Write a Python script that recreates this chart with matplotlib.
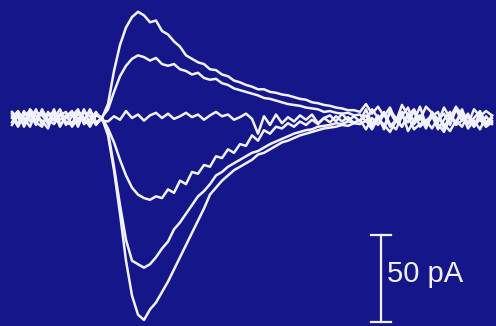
import numpy as np
import matplotlib.pyplot as plt

# time axis: 0.6 ms steps, currents in pA (baseline = 0)
t = np.arange(81) * 0.6 + 1.2

trace1 = [2.5, -3.5, 4, -2, 5, -4, 1.5, 3.5, -5, 1, 4, -2.5, 5, -3.5, 2.5, 0,
          8, 27, 42, 52, 58, 61, 59, 55, 56, 50, 48, 44, 41, 36, 34, 32, 31, 28, 27.5,
          25, 24, 21.5, 20.5, 19, 18, 16.5, 16.5, 15, 14.5, 13.5, 13, 12, 11, 10.5, 9,
          8.5, 7.5, 7, 6, 5.5, 4.5, 4.5, 3.5,
          8, 2.5, 6.5, 1, 6, -2, 7.5, 1.5, 5, -1, 6.5, 3, -2.5, 6, 0, 6.5, 1.5, -3.5, 5,
          1, 4, 1.5]
trace2 = [-2.5, 3.5, -5, 1.5, -1, 4, -3.5, 0, 5, -2.5, -4, 2.5, -1.5, 4, -3.5, 0.5,
          5, 15, 24, 30, 34, 36, 35, 33, 34.5, 31, 30, 31, 28, 27, 25, 26, 23, 22, 22.5,
          20, 19, 17, 16, 15, 14, 13, 11.5, 11, 10, 9, 8, 7.5, 7, 6, 5.5, 5, 3.5, 4, 3,
          2.5, 3, 1.5, 2,
          -2, 5, 0, -5, 3.5, -2.5, 1.5, 6, -3.5, 1, -6, 3.5, -1, 2.5, -4, 5, -1.5, 1,
          -5, 3.5, -2.5, 0]
trace3 = [1, -5, 1.5, 4, -2.5, -5, 3.5, -1.5, 2.5, -4, 1, 5, -3.5, -1, 3.5, -1.5,
          -2, 1, -1, 4, 0, 2, -1.5, 1.5, 3, 0, 2.5, -0.5, 1, 3, 0.5, 2, -1, 1.5, 3.5, 1,
          2, -1, 0.5, 2.5, -0.5, -9, 1, -4, 2, -3, 0.5, -2, 1.5, -1, 2, -3, 0, 1.5, -2,
          2.5, -1.5, 1, -2,
          5, -3.5, 1.5, -6.5, 4, 0, -5, 2.5, -1.5, 6.5, -4, 1, 3.5, -6, 1.5, -2.5, 5,
          -3.5, 0, 4, -5, 1.5]
trace4 = [3.5, 0, -3.5, 5, 1, -1.5, -6, 3.5, -1, 1.5, -3.5, 4, 0, -5, 1.5, 0,
          -6, -14, -24, -33, -40, -44, -46, -47, -45, -46, -41, -43, -36, -38, -31, -32,
          -27, -28, -22, -23, -18, -20, -15, -16, -10, -13, -7, -9, -5, -6, -3, -5, -2,
          -4, -1, -3.5, 0, -2.5, 1, -2, 0.5, -3, -1,
          -6.5, 0, -4, 2.5, -5, -1, 3.5, -7.5, -1.5, 1.5, -5, 1, -3.5, -8, 0, -2.5, 2.5,
          -6, -1.5, -6.5, 1, -3.5]
trace5 = [-4, 1.5, 0, -5, 3.5, 1.5, -2.5, 5, -3.5, 0, 2.5, -5, 3.5, 1, -4, 0,
          -8, -28, -50, -70, -82, -84, -86, -84, -80, -75, -71, -64, -60, -55, -50, -45,
          -42, -38, -33, -31, -28, -26, -24, -22, -20, -19, -17, -15, -13.5, -12, -10.5,
          -9, -8, -7, -6.5, -5, -4.5, -4, -3, -3.5, -2, -2.5, -1.5,
          1.5, -5, -1, 3.5, -3.5, -6.5, 1, -2.5, 4, -5, -1.5, 1.5, -6.5, -1, 3.5, -4,
          -1.5, 2.5, -5, 0, -3.5, -1.5]
trace6 = [0, 4, -1.5, 2.5, -4, 5, -1, -3.5, 1.5, 3.5, -5, 0, -1.5, 5, -2.5, 0,
          -10, -30, -55, -82, -102, -113, -116, -110, -106, -100, -94, -87, -80, -73,
          -66, -59, -52, -44, -40, -36, -33, -30, -28, -26, -24, -21, -20, -18, -16,
          -14, -13, -11.5, -10, -9, -8, -7, -6, -5.5, -5, -4, -4.5, -3, -3.5,
          -1.5, -6.5, 0, -4, -8, -1.5, -5, 1, -6.5, -3.5, -1.5, -6, 0, -3.5, -7.5, -1.5,
          -5, 1.5, -4, -1, -5, -2.5]

traces = [trace1, trace2, trace3, trace4, trace5, trace6]

bg = '#15168a'
fg = '#f2f2ff'

fig = plt.figure(figsize=(4.96, 3.26), dpi=100, facecolor=bg)
ax = fig.add_axes([0, 0, 1, 1])
ax.set_facecolor(bg)

for tr in traces:
    ax.plot(t, tr, color=fg, lw=1.8, solid_joinstyle='round')

# 50 pA scale bar
ax.plot([38.1, 38.1], [-117.24, -67.24], color=fg, lw=1.6)
ax.plot([37.1, 39.1], [-67.24, -67.24], color=fg, lw=1.6)
ax.plot([37.1, 39.1], [-117.24, -117.24], color=fg, lw=1.6)
ax.text(38.7, -94.3, '50 pA', color=fg, fontsize=21, family='Liberation Sans',
        va='baseline', ha='left')

ax.set_xlim(0, 49.6)
ax.set_ylim(-119.5, 67.8)
ax.axis('off')

fig.savefig('out.png', dpi=100, facecolor=bg)
